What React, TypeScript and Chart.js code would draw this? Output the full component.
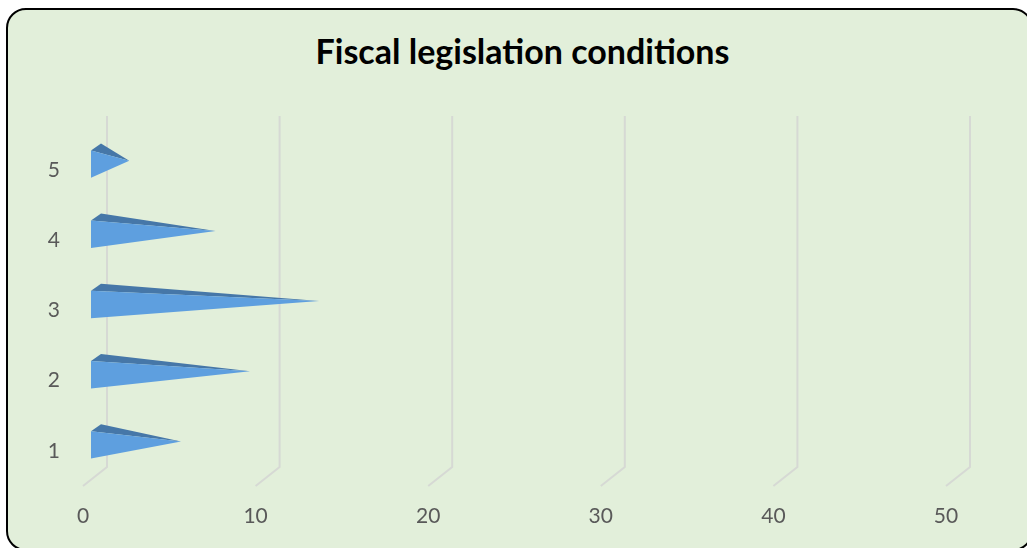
import React, { useEffect, useRef } from "react";
import { Chart, registerables } from "chart.js";

Chart.register(...registerables);

const categories = ["1", "2", "3", "4", "5"];
const values = [5, 9, 13, 7, 2];
const xMin = 0;
const xMax = 50;
const xStep = 10;
const titleText = "Fiscal legislation conditions";

const FRONT_COLOR = "#5E9FDF";
const TOP_COLOR = "#4677A8";
const GRID_COLOR = "#D6D9D4";
const TICK_COLOR = "#595959";

const depthPlugin = {
  id: "depth3d",
  beforeDatasetsDraw(chart: any) {
    const ctx = chart.ctx;
    const xs = chart.scales.x;
    const area = chart.chartArea;
    const dx = 24;
    const dy = -19;
    ctx.save();
    ctx.strokeStyle = GRID_COLOR;
    ctx.lineWidth = 2;
    xs.ticks.forEach((t: any) => {
      const px = xs.getPixelForValue(t.value);
      ctx.beginPath();
      ctx.moveTo(px, area.bottom);
      ctx.lineTo(px + dx, area.bottom + dy);
      ctx.lineTo(px + dx, area.top + dy);
      ctx.stroke();
    });
    ctx.restore();
  },
  afterDatasetsDraw(chart: any) {
    const ctx = chart.ctx;
    const meta = chart.getDatasetMeta(0);
    ctx.save();
    meta.data.forEach((el: any) => {
      const p = el.getProps(["x", "y", "base", "height"], true);
      const fx = p.base + 8;
      const fTop = p.y - p.height / 2 - 6;
      const fBot = p.y + p.height / 2 - 6;
      const ax = p.x + 11.7;
      const ay = (fTop + fBot) / 2 - 3.4;
      // top face
      ctx.fillStyle = TOP_COLOR;
      ctx.beginPath();
      ctx.moveTo(fx, fTop);
      ctx.lineTo(fx + 10, fTop - 7);
      ctx.lineTo(ax, ay);
      ctx.closePath();
      ctx.fill();
      // front face
      ctx.fillStyle = FRONT_COLOR;
      ctx.beginPath();
      ctx.moveTo(fx, fTop);
      ctx.lineTo(ax, ay);
      ctx.lineTo(fx, fBot);
      ctx.closePath();
      ctx.fill();
    });
    ctx.restore();
  },
};

export default function App() {
  const canvasRef = useRef<HTMLCanvasElement | null>(null);

  useEffect(() => {
    if (!canvasRef.current) return;
    const chart = new Chart(canvasRef.current, {
      type: "bar",
      data: {
        labels: categories,
        datasets: [
          {
            data: values,
            backgroundColor: "rgba(0,0,0,0)",
            borderWidth: 0,
            barPercentage: 0.39,
            categoryPercentage: 1,
          },
        ],
      },
      options: {
        indexAxis: "y",
        animation: false,
        responsive: false,
        devicePixelRatio: 1,
        layout: { padding: { top: 135, right: 81, bottom: 0, left: 0 } },
        plugins: {
          legend: { display: false },
          tooltip: { enabled: false },
          title: { display: false },
        },
        scales: {
          x: {
            min: xMin,
            max: xMax,
            ticks: {
              stepSize: xStep,
              padding: 18,
              color: TICK_COLOR,
              font: { family: "Lato", size: 21 },
              maxRotation: 0,
            },
            grid: { display: false, drawTicks: false },
            border: { display: false },
            afterFit: (s: any) => {
              s.height = 62;
            },
          },
          y: {
            reverse: true,
            ticks: {
              padding: 23,
              color: TICK_COLOR,
              font: { family: "Lato", size: 21 },
            },
            grid: { display: false, drawTicks: false },
            border: { display: false },
            afterFit: (s: any) => {
              s.width = 83;
            },
          },
        },
      } as any,
      plugins: [depthPlugin],
    });
    return () => chart.destroy();
  }, []);

  return (
    <div
      style={{
        position: "fixed",
        left: 0,
        top: 0,
        width: 1027,
        height: 548,
        overflow: "hidden",
        background: "#ffffff",
      }}
    >
      <div
        style={{
          position: "absolute",
          left: 6,
          top: 8,
          width: 1023,
          height: 539,
          border: "2px solid #000",
          borderRadius: 20,
          background: "#E2EFDA",
        }}
      />
      <div
        style={{
          position: "absolute",
          left: 0,
          top: 33,
          width: 1045,
          textAlign: "center",
          fontFamily: "Lato, sans-serif",
          fontWeight: 700,
          fontSize: 34,
          lineHeight: "36px",
          color: "#000",
        }}
      >
        {titleText}
      </div>
      <canvas
        ref={canvasRef}
        width={1027}
        height={548}
        style={{ position: "absolute", left: 0, top: 0, width: 1027, height: 548 }}
      />
    </div>
  );
}
